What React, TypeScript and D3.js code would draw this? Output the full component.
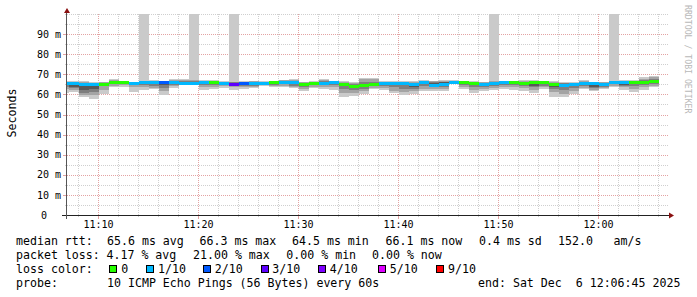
import React from 'react';
import * as d3 from 'd3';

// ---------- data ----------
const firstMinute = new Date(2025, 11, 6, 11, 6, 0);
const startTime = new Date(2025, 11, 6, 11, 6, 45);
const endTime = new Date(2025, 11, 6, 12, 6, 45);

const medians = [65.8,65.6,65.2,65.2,65.3,66.0,66.1,65.8,66.1,66.2, 66.2,66.2,65.9,65.9,66.0,66.2,65.6,65.2,65.5,65.8, 65.9,66.2,66.3,66.0,65.3,65.6,65.8,66.2,65.2,64.2, 64.5,65.0,65.6,65.8,65.8,65.3,66.2,64.8,65.3,66.3, 66.4,65.6,65.3,65.8,66.0,66.2,65.8,66.0,66.1,65.0, 64.9,65.3,65.5,65.6,65.3,66.0,66.1,66.2,66.4,66.5];
const lossIndex = [1,1,1,1,0,0,0,1,1,1, 2,1,1,1,1,0,1,3,2,1, 1,0,1,1,0,0,1,1,0,0, 0,0,1,1,1,1,1,1,1,1, 0,0,1,1,1,0,0,0,0,0, 1,1,1,1,1,1,1,0,0,0];
const outerLo = [60.5,61.3,58.5,57.5,60.0,63.5,63.8,61.3,62.2,62.5, 59.7,63.3,64.5,64.5,62.0,62.5,63.0,62.3,62.7,63.0, 64.0,63.5,63.8,63.0,61.8,63.0,62.5,62.0,58.9,59.0, 60.0,62.5,62.3,60.5,59.7,60.0,61.5,61.5,61.5,65.5, 62.5,60.8,61.5,62.2,62.8,62.2,61.8,60.8,62.5,58.9, 58.9,60.0,62.5,61.8,62.5,63.5,62.3,61.0,62.3,63.5];
const outerHi = [66.8,66.8,66.5,66.3,66.4,67.5,66.8,66.4,200,67.0, 66.8,67.5,67.8,200,67.0,67.0,66.5,200,66.5,66.8, 66.6,66.8,67.3,67.6,66.3,66.5,67.5,66.8,66.8,66.2, 68.3,68.3,66.5,66.6,66.6,66.5,67.0,66.8,67.0,67.0, 66.8,66.5,66.3,200,66.8,66.8,67.2,67.3,66.8,66.5, 66.3,66.2,67.0,66.3,66.2,200,67.0,67.3,68.5,69.2];
const band2Lo = [62.5,62.3,59.8,59.5,62.0,64.3,64.5,63.5,63.5,63.2, 61.5,64.0,65.0,65.0,63.5,63.5,64.0,63.5,63.5,63.8, 64.5,64.0,64.3,63.5,62.8,63.8,63.5,63.5,60.5,60.5, 61.5,63.3,63.2,61.8,61.0,61.5,62.8,62.5,62.5,65.8, 63.5,62.0,62.5,63.0,63.5,63.5,63.0,62.0,63.5,61.0, 60.3,61.5,63.3,62.3,63.0,64.3,63.5,62.5,63.5,64.3];
const band2Hi = [66.4,66.4,66.0,65.9,66.0,67.0,66.5,66.2,66.8,66.8, 66.6,67.0,67.2,67.0,66.6,66.8,66.3,66.3,66.2,66.5, 66.4,66.6,67.0,67.2,66.0,66.2,67.0,66.5,66.3,65.5, 67.5,67.5,66.3,66.4,66.4,66.0,66.8,66.5,66.7,66.8, 66.7,66.3,66.0,66.6,66.5,66.6,66.8,66.8,66.5,66.0, 65.8,65.9,66.5,66.0,66.0,66.8,66.6,66.9,67.8,68.5];
const band3Lo = [63.5,63.0,60.5,61.3,64.0,65.0,65.2,64.5,64.5,64.2, 63.0,64.8,65.4,65.4,64.5,64.5,64.8,64.3,64.3,64.3, 65.0,64.8,65.0,64.3,63.5,64.5,64.5,64.5,62.5,62.0, 62.8,64.0,64.2,63.5,62.5,62.8,64.0,63.5,63.5,66.0, 64.8,63.5,63.8,64.0,64.5,64.5,64.3,63.5,64.3,62.5, 62.0,63.0,64.0,63.0,63.8,65.0,64.0,64.0,64.5,65.0];
const band3Hi = [66.2,66.1,65.6,65.6,65.8,66.6,66.3,66.0,66.5,66.5, 66.4,66.6,66.6,66.5,66.3,66.6,66.1,66.0,66.0,66.3, 66.2,66.5,66.7,66.8,65.8,66.0,66.6,66.3,65.8,65.0, 66.0,66.0,66.0,66.2,66.2,65.8,66.6,66.2,66.4,66.6, 66.6,66.0,65.8,66.4,66.3,66.5,66.4,66.4,66.3,65.7, 65.5,65.6,66.0,65.8,65.8,66.5,66.3,66.6,67.0,67.5];
const band4Lo = [64.5,63.6,62.0,62.8,64.8,65.5,65.6,65.0,65.3,65.0, 64.5,65.5,65.6,65.6,65.3,65.3,65.2,64.8,64.8,64.8, 65.4,65.5,65.7,65.0,64.3,65.0,65.2,65.5,64.0,63.0, 63.5,64.5,64.8,64.8,64.5,63.8,65.0,64.0,64.3,66.1, 65.6,64.5,64.5,65.0,65.3,65.4,65.0,64.3,65.0,63.5, 63.5,64.3,64.8,63.8,64.3,65.5,64.6,65.3,65.5,65.8];
const band4Hi = [66.0,65.8,65.0,65.2,65.5,66.3,66.2,65.9,66.3,66.3, 66.3,66.3,66.2,66.2,66.1,66.4,65.9,65.6,65.8,66.0, 66.1,66.4,66.5,66.4,65.6,65.8,66.2,66.2,65.4,64.6, 65.0,65.5,65.8,66.0,66.0,65.5,66.4,65.8,66.2,66.5, 66.5,65.8,65.6,66.3,66.2,66.4,66.1,66.2,66.2,65.3, 65.2,65.5,65.8,65.7,65.6,66.3,66.0,66.4,66.7,67.2];

const lossColors = ['#26ff00', '#00b8ff', '#0059ff', '#5e00ff', '#7e00ff', '#dd00ff', '#ff0000'];
const lossLabels = ['0', '1/10', '2/10', '3/10', '4/10', '5/10', '9/10'];
const smokeColors = ['#cacaca', '#a4a4a4', '#7e7e7e', '#585858'];

const yMajorTicks = [0, 10, 20, 30, 40, 50, 60, 70, 80, 90];
const yTickLabels = ['0', '10 m', '20 m', '30 m', '40 m', '50 m', '60 m', '70 m', '80 m', '90 m'];
const xTickLabels = ['11:10', '11:20', '11:30', '11:40', '11:50', '12:00'];

const rttText = ['median rtt:', '65.6 ms avg', '66.3 ms max', '64.5 ms min', '66.1 ms now', '0.4 ms sd', '152.0', 'am/s'];
const lossText = ['packet loss:', '4.17 % avg', '21.00 % max', '0.00 % min', '0.00 % now'];
const probeText = ['probe:', '10 ICMP Echo Pings (56 Bytes) every 60s', 'end: Sat Dec  6 12:06:45 2025'];

// ---------- layout ----------
const W = 697, H = 297;
const PL = 67, PR = 666, PT = 14, PB = 215;
const rttX = [16, 107, 199.5, 292, 385.5, 479, 558, 613.5];
const lossX = [16, 106.5, 193, 286.3, 372];
const probeX = [16, 107, 478];
const boxX = [109, 146, 203, 261, 318, 377.5, 435.5];
const boxLabelX = [121.3, 158, 214.7, 272.3, 329.7, 389.7, 448];
const rowY = [245, 259, 273, 287];

const MONO = '"DejaVu Sans Mono", monospace';

export default function App() {
  const x = d3.scaleTime().domain([startTime, endTime]).range([65.8, 665.8]);
  const y = d3.scaleLinear().domain([0, 100]).range([PB, PT]);
  const yc = (v: number) => y(Math.min(v, 100));

  const minuteAt = (j: number) => d3.timeMinute.offset(firstMinute, j);
  const colX = (j: number) => Math.round(x(minuteAt(j))) + 1;

  const bands = [
    [outerLo, outerHi],
    [band2Lo, band2Hi],
    [band3Lo, band3Hi],
    [band4Lo, band4Hi],
  ];

  const vTimes = d3.timeMinute.every(2)!.range(new Date(2025, 11, 6, 11, 8), endTime);
  const hVals = d3.range(5, 101, 5);

  const xMajors = xTickLabels.map((l) => {
    const [hh, mm] = l.split(':').map(Number);
    return new Date(2025, 11, 6, hh, mm);
  });

  return (
    <svg width={W} height={H} style={{ position: 'absolute', left: 0, top: 0, background: '#fff' }}
      xmlns="http://www.w3.org/2000/svg">
      <defs>
        <clipPath id="plot">
          <rect x={PL} y={PT} width={PR - PL} height={PB - PT} />
        </clipPath>
      </defs>
      <rect x={0} y={0} width={W} height={H} fill="#fff" />

      {/* grid */}
      <g shapeRendering="crispEdges">
        {hVals.map((v) => {
          const yy = Math.round(y(v)) + 0.5;
          const major = v % 10 === 0 && v < 100;
          const c = major ? '#e3a3a3' : '#cfcfcf';
          return (
            <g key={'h' + v}>
              <line x1={major ? 63 : 65} x2={PL} y1={yy} y2={yy} stroke={c} />
              <line x1={PL} x2={669} y1={yy} y2={yy} stroke={c} strokeDasharray="1,1" />
            </g>
          );
        })}
        {vTimes.map((t, i) => {
          const xx = Math.round(x(t)) + 0.5;
          const major = t.getMinutes() % 10 === 0;
          const c = major ? '#e3a3a3' : '#cfcfcf';
          return (
            <g key={'v' + i}>
              <line x1={xx} x2={xx} y1={PT} y2={PB} stroke={c} strokeDasharray="1,1" />
              <line x1={xx} x2={xx} y1={PB} y2={major ? 219 : 217} stroke={c} />
            </g>
          );
        })}
      </g>

      {/* smoke + median */}
      <g clipPath="url(#plot)" shapeRendering="crispEdges">
        {medians.map((m, j) => {
          const x0 = colX(j);
          const x1 = colX(j + 1);
          return (
            <g key={'c' + j}>
              {bands.map(([lo, hi], b) => (
                <rect key={b} x={x0} width={x1 - x0} y={yc(hi[j])} height={yc(lo[j]) - yc(hi[j])}
                  fill={smokeColors[b]} />
              ))}
              <rect x={x0} width={x1 - x0} y={Math.round(y(m)) - 1} height={3} fill={lossColors[lossIndex[j]]} />
            </g>
          );
        })}
      </g>

      {/* axes */}
      <g shapeRendering="crispEdges">
        <line x1={62} x2={669} y1={215.5} y2={215.5} stroke="#222" />
        <line x1={66.5} x2={66.5} y1={219} y2={11} stroke="#555" />
      </g>
      <path d="M64,13 L70,13 L67,8 Z" fill="#8a1010" />
      <path d="M669,212.5 L669,218.5 L674,215.5 Z" fill="#8a1010" />

      {/* y tick labels */}
      {yMajorTicks.map((v, i) => (
        <text key={'yl' + v} x={yTickLabels[i].includes('m') ? 61 : 47} y={y(v) + 3.6}
          fontFamily={MONO} fontSize={10} textAnchor="end" fill="#000" xmlSpace="preserve">
          {yTickLabels[i]}
        </text>
      ))}
      {/* x tick labels */}
      {xMajors.map((t, i) => (
        <text key={'xl' + i} x={Math.round(x(t)) + 0.5} y={228} fontFamily={MONO} fontSize={10}
          textAnchor="middle" fill="#000">
          {xTickLabels[i]}
        </text>
      ))}

      {/* axis title */}
      <text transform="translate(15.5,113) rotate(-90)" fontFamily={MONO} fontSize={11.6}
        textAnchor="middle" fill="#000">Seconds</text>

      {/* watermark */}
      <text transform="translate(685,5) rotate(90)" fontFamily={MONO} fontSize={8.2}
        fill="#b8b8b8" xmlSpace="preserve">RRDTOOL / TOBI OETIKER</text>

      {/* legend */}
      <g fontFamily={MONO} fontSize={11.6} fill="#000">
        {rttText.map((s, i) => (
          <text key={'r' + i} x={rttX[i]} y={rowY[0]} xmlSpace="preserve">{s}</text>
        ))}
        {lossText.map((s, i) => (
          <text key={'l' + i} x={lossX[i]} y={rowY[1]} xmlSpace="preserve">{s}</text>
        ))}
        <text x={16} y={rowY[2]} xmlSpace="preserve">loss color:</text>
        {lossLabels.map((s, i) => (
          <g key={'b' + i}>
            <rect x={boxX[i] + 0.5} y={265.5} width={7} height={7} fill={lossColors[i]} stroke="#000"
              shapeRendering="crispEdges" />
            <text x={boxLabelX[i]} y={rowY[2]} xmlSpace="preserve">{s}</text>
          </g>
        ))}
        {probeText.map((s, i) => (
          <text key={'p' + i} x={probeX[i]} y={rowY[3]} xmlSpace="preserve">{s}</text>
        ))}
      </g>
    </svg>
  );
}
